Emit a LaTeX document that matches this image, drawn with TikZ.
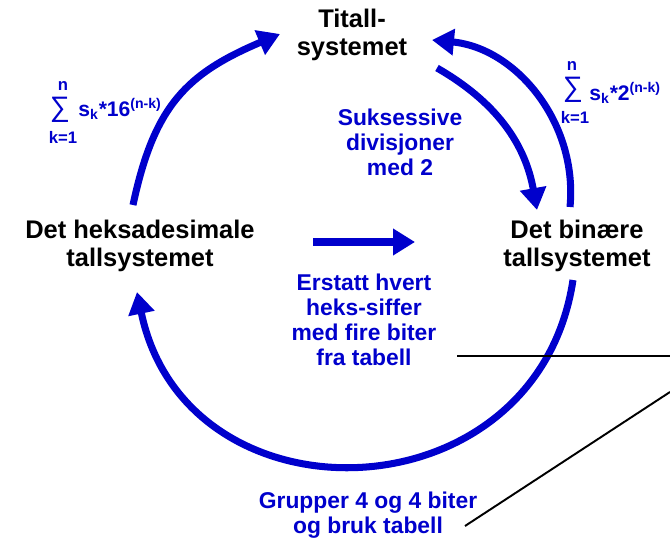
\documentclass[tikz,border=0pt]{standalone}
\usepackage{fontspec}
\setmainfont{Liberation Sans}
\usetikzlibrary{arrows.meta}
\definecolor{flowblue}{RGB}{0,0,204}

\begin{document}
\begin{tikzpicture}[x=0.02cm, y=-0.02cm,
	flow/.style={flowblue, line width=4pt, -{Triangle[length=12.5pt,width=14.5pt]}},
	sys/.style={align=center, font=\fontsize{14.5}{16}\selectfont\bfseries},
	note/.style={flowblue, align=center, font=\fontsize{13}{14.2}\selectfont\bfseries},
	sumsign/.style={flowblue, inner sep=0pt, font=\fontsize{16}{16}\selectfont},
	limit/.style={flowblue, inner sep=0pt, font=\fontsize{9.5}{10}\selectfont\bfseries},
	term/.style={flowblue, inner sep=0pt, font=\fontsize{12}{13}\selectfont\bfseries},
	pointer/.style={black, line width=1.3pt}]
	\useasboundingbox (0,0) rectangle (670,541);

	% the three number systems
	\node[sys] (tital) at (352,35) {Titall-\\systemet};
	\node[sys] (hex) at (140,246) {Det heksadesimale\\tallsystemet};
	\node[sys] (bin) at (577,246) {Det binære\\tallsystemet};

	% arrow ends
	\coordinate (hexN) at (133,205);
	\coordinate (titW) at (280,34);
	\coordinate (titE) at (432,40);
	\coordinate (titS) at (437,68);
	\coordinate (binN) at (570,207);
	\coordinate (binW) at (537,210);
	\coordinate (binS) at (573,280);
	\coordinate (hexS) at (137,292);
	\coordinate (midA) at (313,242);
	\coordinate (midB) at (415,242);

	\draw[flow] (hexN) to[out=78, in=-157, looseness=1.15] (titW);
	\draw[flow] (binN) to[bend right=45] (titE);
	\draw[flow] (titS) to[bend left=25] (binW);
	\draw[flow] (binS) to[out=-98.6, in=-78.3, looseness=1.42] (hexS);
	\draw[flow] (midA) -- (midB);

	% labels
	\node[note] (divs) at (400,142) {Suksessive\\divisjoner\\med 2};
	\node[note] (swap) at (364,320) {Erstatt hvert\\heks-siffer\\med fire biter\\fra tabell};
	\node[note] (grp) at (368,515) {Grupper 4 og 4 biter\\og bruk tabell};

	% sum formulas
	\node[sumsign] (sgL) at (60,110) {∑};
	\node[limit] (nL) at (63,86) {n};
	\node[limit] (kL) at (63,137) {k=1};
	\node[term, anchor=base west] (tL) at (78,116) {s\textsubscript{k}*16\textsuperscript{(n-k)}};

	\node[sumsign] (sgR) at (573,90) {∑};
	\node[limit] (nR) at (572,66) {n};
	\node[limit] (kR) at (575,117) {k=1};
	\node[term, anchor=base west] (tR) at (589,100) {s\textsubscript{k}*2\textsuperscript{(n-k)}};

	% pointer lines
	\coordinate (ptrA) at (457,356);
	\coordinate (ptrAend) at (670,356);
	\coordinate (ptrB) at (465,526);
	\coordinate (ptrBend) at (670,392);
	\draw[pointer] (ptrA) -- (ptrAend);
	\draw[pointer, line width=1.1pt] (ptrB) -- (ptrBend);
\end{tikzpicture}
\end{document}
